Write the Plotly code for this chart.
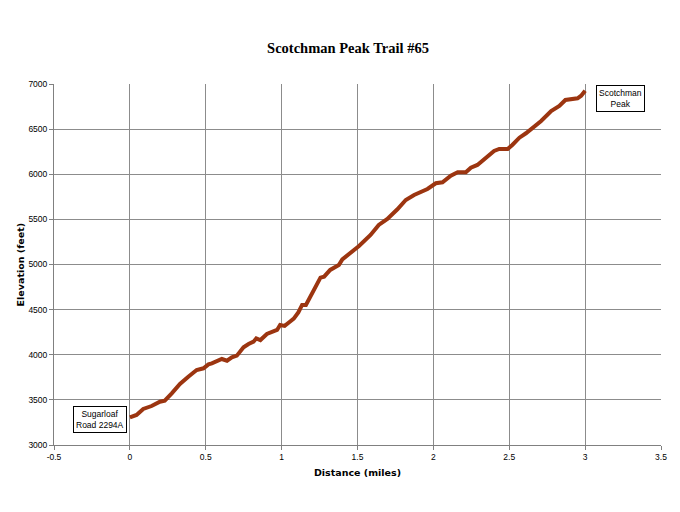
import plotly.graph_objects as go

distance_miles = [0.0, 0.044, 0.088, 0.143, 0.198, 0.23, 0.276, 0.33, 0.385, 0.44, 0.485, 0.518,
                  0.54, 0.584, 0.606, 0.64, 0.672, 0.705, 0.749, 0.782, 0.815, 0.833, 0.86, 0.903,
                  0.947, 0.97, 0.99, 1.02, 1.05, 1.08, 1.11, 1.135, 1.16, 1.21, 1.256, 1.28, 1.32,
                  1.377, 1.4, 1.51, 1.586, 1.64, 1.697, 1.763, 1.818, 1.873, 1.961, 2.016, 2.06,
                  2.115, 2.16, 2.214, 2.247, 2.29, 2.335, 2.4, 2.434, 2.49, 2.52, 2.567, 2.61,
                  2.71, 2.776, 2.83, 2.87, 2.91, 2.95, 2.974, 3.0]
elevation_feet = [3305, 3333, 3399, 3432, 3480, 3491, 3573, 3676, 3757, 3831, 3850, 3894,
                  3905, 3942, 3953, 3934, 3972, 3990, 4083, 4119, 4145, 4182, 4163, 4230,
                  4267, 4275, 4330, 4320, 4360, 4400, 4470, 4552, 4552, 4718, 4854, 4865, 4940,
                  4995, 5057, 5205, 5327, 5438, 5504, 5612, 5715, 5770, 5837, 5900, 5911,
                  5984, 6022, 6022, 6073, 6103, 6169, 6258, 6280, 6280, 6324, 6405, 6454,
                  6590, 6701, 6756, 6823, 6830, 6841, 6870, 6926]

x_tick_values = [-0.5, 0, 0.5, 1, 1.5, 2, 2.5, 3, 3.5]
x_tick_labels = ["-0.5", "0", "0.5", "1", "1.5", "2", "2.5", "3", "3.5"]

labels = ["Sugarloaf<br>Road 2294A", "Scotchman<br>Peak"]
label_x = [-0.2, 3.23]
label_y = [3283, 6834]

fig = go.Figure()
fig.add_trace(go.Scatter(x=distance_miles, y=elevation_feet, mode="lines",
                         line=dict(color="#9C3510", width=4), showlegend=False))

for t, x, y in zip(labels, label_x, label_y):
    fig.add_annotation(x=x, y=y, text=t, showarrow=False, xref="x", yref="y",
                       font=dict(family="Liberation Sans", size=8.5, color="black"),
                       bordercolor="black", borderwidth=1, borderpad=2, bgcolor="white",
                       align="center")

tick_font = dict(family="Liberation Sans", size=8.5, color="black")
title_font = dict(family="DejaVu Sans", size=9.5, color="black")

# y-axis title as a rotated annotation placed left of the tick labels
fig.add_annotation(text="<b>Elevation (feet)</b>", xref="paper", yref="paper",
                   x=-33 / 605, y=0.5, xanchor="center", yanchor="middle",
                   textangle=-90, showarrow=False, font=title_font)

fig.update_layout(
    width=680, height=512,
    margin=dict(l=46, r=27, t=76, b=75),
    paper_bgcolor="white", plot_bgcolor="white",
    title=dict(text="<b>Scotchman Peak Trail #65</b>", x=0.5, xanchor="center",
               y=1 - 40 / 512, yanchor="middle",
               font=dict(family="Liberation Serif", size=14.5, color="black")),
    xaxis=dict(range=[-0.5, 3.5], tickvals=x_tick_values, ticktext=x_tick_labels,
               showgrid=True, gridcolor="#8c8c8c", automargin=False,
               gridwidth=1, zeroline=False, showline=True, linecolor="#808080", linewidth=1,
               ticks="outside", ticklen=4, tickcolor="#808080", tickfont=tick_font,
               title=dict(text="<b>Distance (miles)</b>", standoff=8, font=title_font)),
    yaxis=dict(range=[3000, 7000], dtick=500, showgrid=True, gridcolor="#8c8c8c",
               gridwidth=1, zeroline=False, showline=True, linecolor="#808080", linewidth=1,
               automargin=False,
               ticks="outside", ticklen=4, tickcolor="#808080", tickfont=tick_font),
)

fig.write_html("out.html")
